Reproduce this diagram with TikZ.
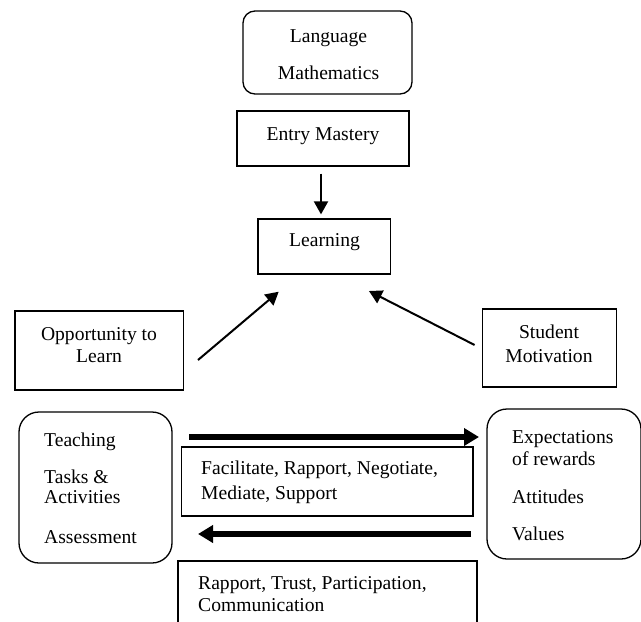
\documentclass[tikz,border=0pt]{standalone}
\usepackage{fontspec}
\setmainfont{Liberation Serif}
\usetikzlibrary{arrows.meta}
\begin{document}
\begin{tikzpicture}[x=1pt,y=-1pt,
  box/.style={draw, line width=1.3pt, inner sep=0pt},
  rbox/.style={box, rounded corners=12pt},
  rrbox/.style={box, rounded corners=20pt},
  txt/.style={inner sep=0pt, font=\fontsize{19.6}{22}\selectfont},
  thinarrow/.style={line width=2pt, -{Triangle[length=13pt,width=14pt]}},
  thickarrow/.style={line width=6pt, -{Triangle[length=15pt,width=17pt]}}]
\useasboundingbox (0,0) rectangle (641,622);
\clip (0,0) rectangle (641,622);
% boxes
\node[rbox, minimum width=169pt, minimum height=83pt] (top) at (327.5,52.5) {};
\node[box, minimum width=172pt, minimum height=55pt] (em) at (323,138.5) {};
\node[box, minimum width=132.6pt, minimum height=55pt] (lrn) at (324.3,246.5) {};
\node[box, minimum width=168.6pt, minimum height=79pt] (opp) at (99.3,350.5) {};
\node[box, minimum width=134pt, minimum height=78pt] (mot) at (549.5,348) {};
\node[rrbox, minimum width=153pt, minimum height=151pt] (tl) at (95.5,487.5) {};
\node[rrbox, minimum width=154pt, minimum height=150pt] (tr) at (564,484) {};
\node[box, minimum width=291.5pt, minimum height=69pt] (fac) at (327.25,481.5) {};
\node[box, minimum width=299pt, minimum height=79pt] (rap) at (327.5,600.5) {};
% texts
\node[txt, anchor=base] (t1) at (328.5,42.5) {Language};
\node[txt, anchor=base] (t2) at (328.5,79.5) {Mathematics};
\node[txt, anchor=base] (t3) at (323,140.5) {Entry Mastery};
\node[txt, anchor=base] (t4) at (324.5,246.5) {Learning};
\node[txt, anchor=base] (t5) at (99,340) {Opportunity to};
\node[txt, anchor=base] (t6) at (99,362.5) {Learn};
\node[txt, anchor=base] (t7) at (549,338.5) {Student};
\node[txt, anchor=base] (t8) at (549,362) {Motivation};
\node[txt, anchor=base west] (l1) at (44,446.5) {Teaching};
\node[txt, anchor=base west] (l2) at (44,483.5) {Tasks \&};
\node[txt, anchor=base west] (l3) at (44,503.5) {Activities};
\node[txt, anchor=base west] (l4) at (44,543.5) {Assessment};
\node[txt, anchor=base west] (r1) at (512,443.5) {Expectations};
\node[txt, anchor=base west] (r2) at (512,465.5) {of rewards};
\node[txt, anchor=base west] (r3) at (512,503.5) {Attitudes};
\node[txt, anchor=base west] (r4) at (512,540.5) {Values};
\node[txt, anchor=base west] (f1) at (201,474.5) {Facilitate, Rapport, Negotiate,};
\node[txt, anchor=base west] (f2) at (201,499.5) {Mediate, Support};
\node[txt, anchor=base west] (p1) at (198,589.5) {Rapport, Trust, Participation,};
\node[txt, anchor=base west] (p2) at (198,611.5) {Communication};
% connectors
\draw[thinarrow, shorten <=7pt, shorten >=4pt] ([xshift=-2pt]em.south) -- ([xshift=-2pt]em.south |- lrn.north);
\coordinate (oa) at (198,360);
\coordinate (ob) at (278.7,291.7);
\coordinate (ma) at (474.6,345);
\coordinate (mb) at (368.9,291);
\draw[thinarrow] (oa) -- (ob);
\draw[thinarrow] (ma) -- (mb);
\coordinate (ta1) at (189,437);
\coordinate (ta2) at (479,437);
\coordinate (tb1) at (471,534);
\coordinate (tb2) at (198,534);
\draw[thickarrow] (ta1) -- (ta2);
\draw[thickarrow] (tb1) -- (tb2);
\end{tikzpicture}
\end{document}
